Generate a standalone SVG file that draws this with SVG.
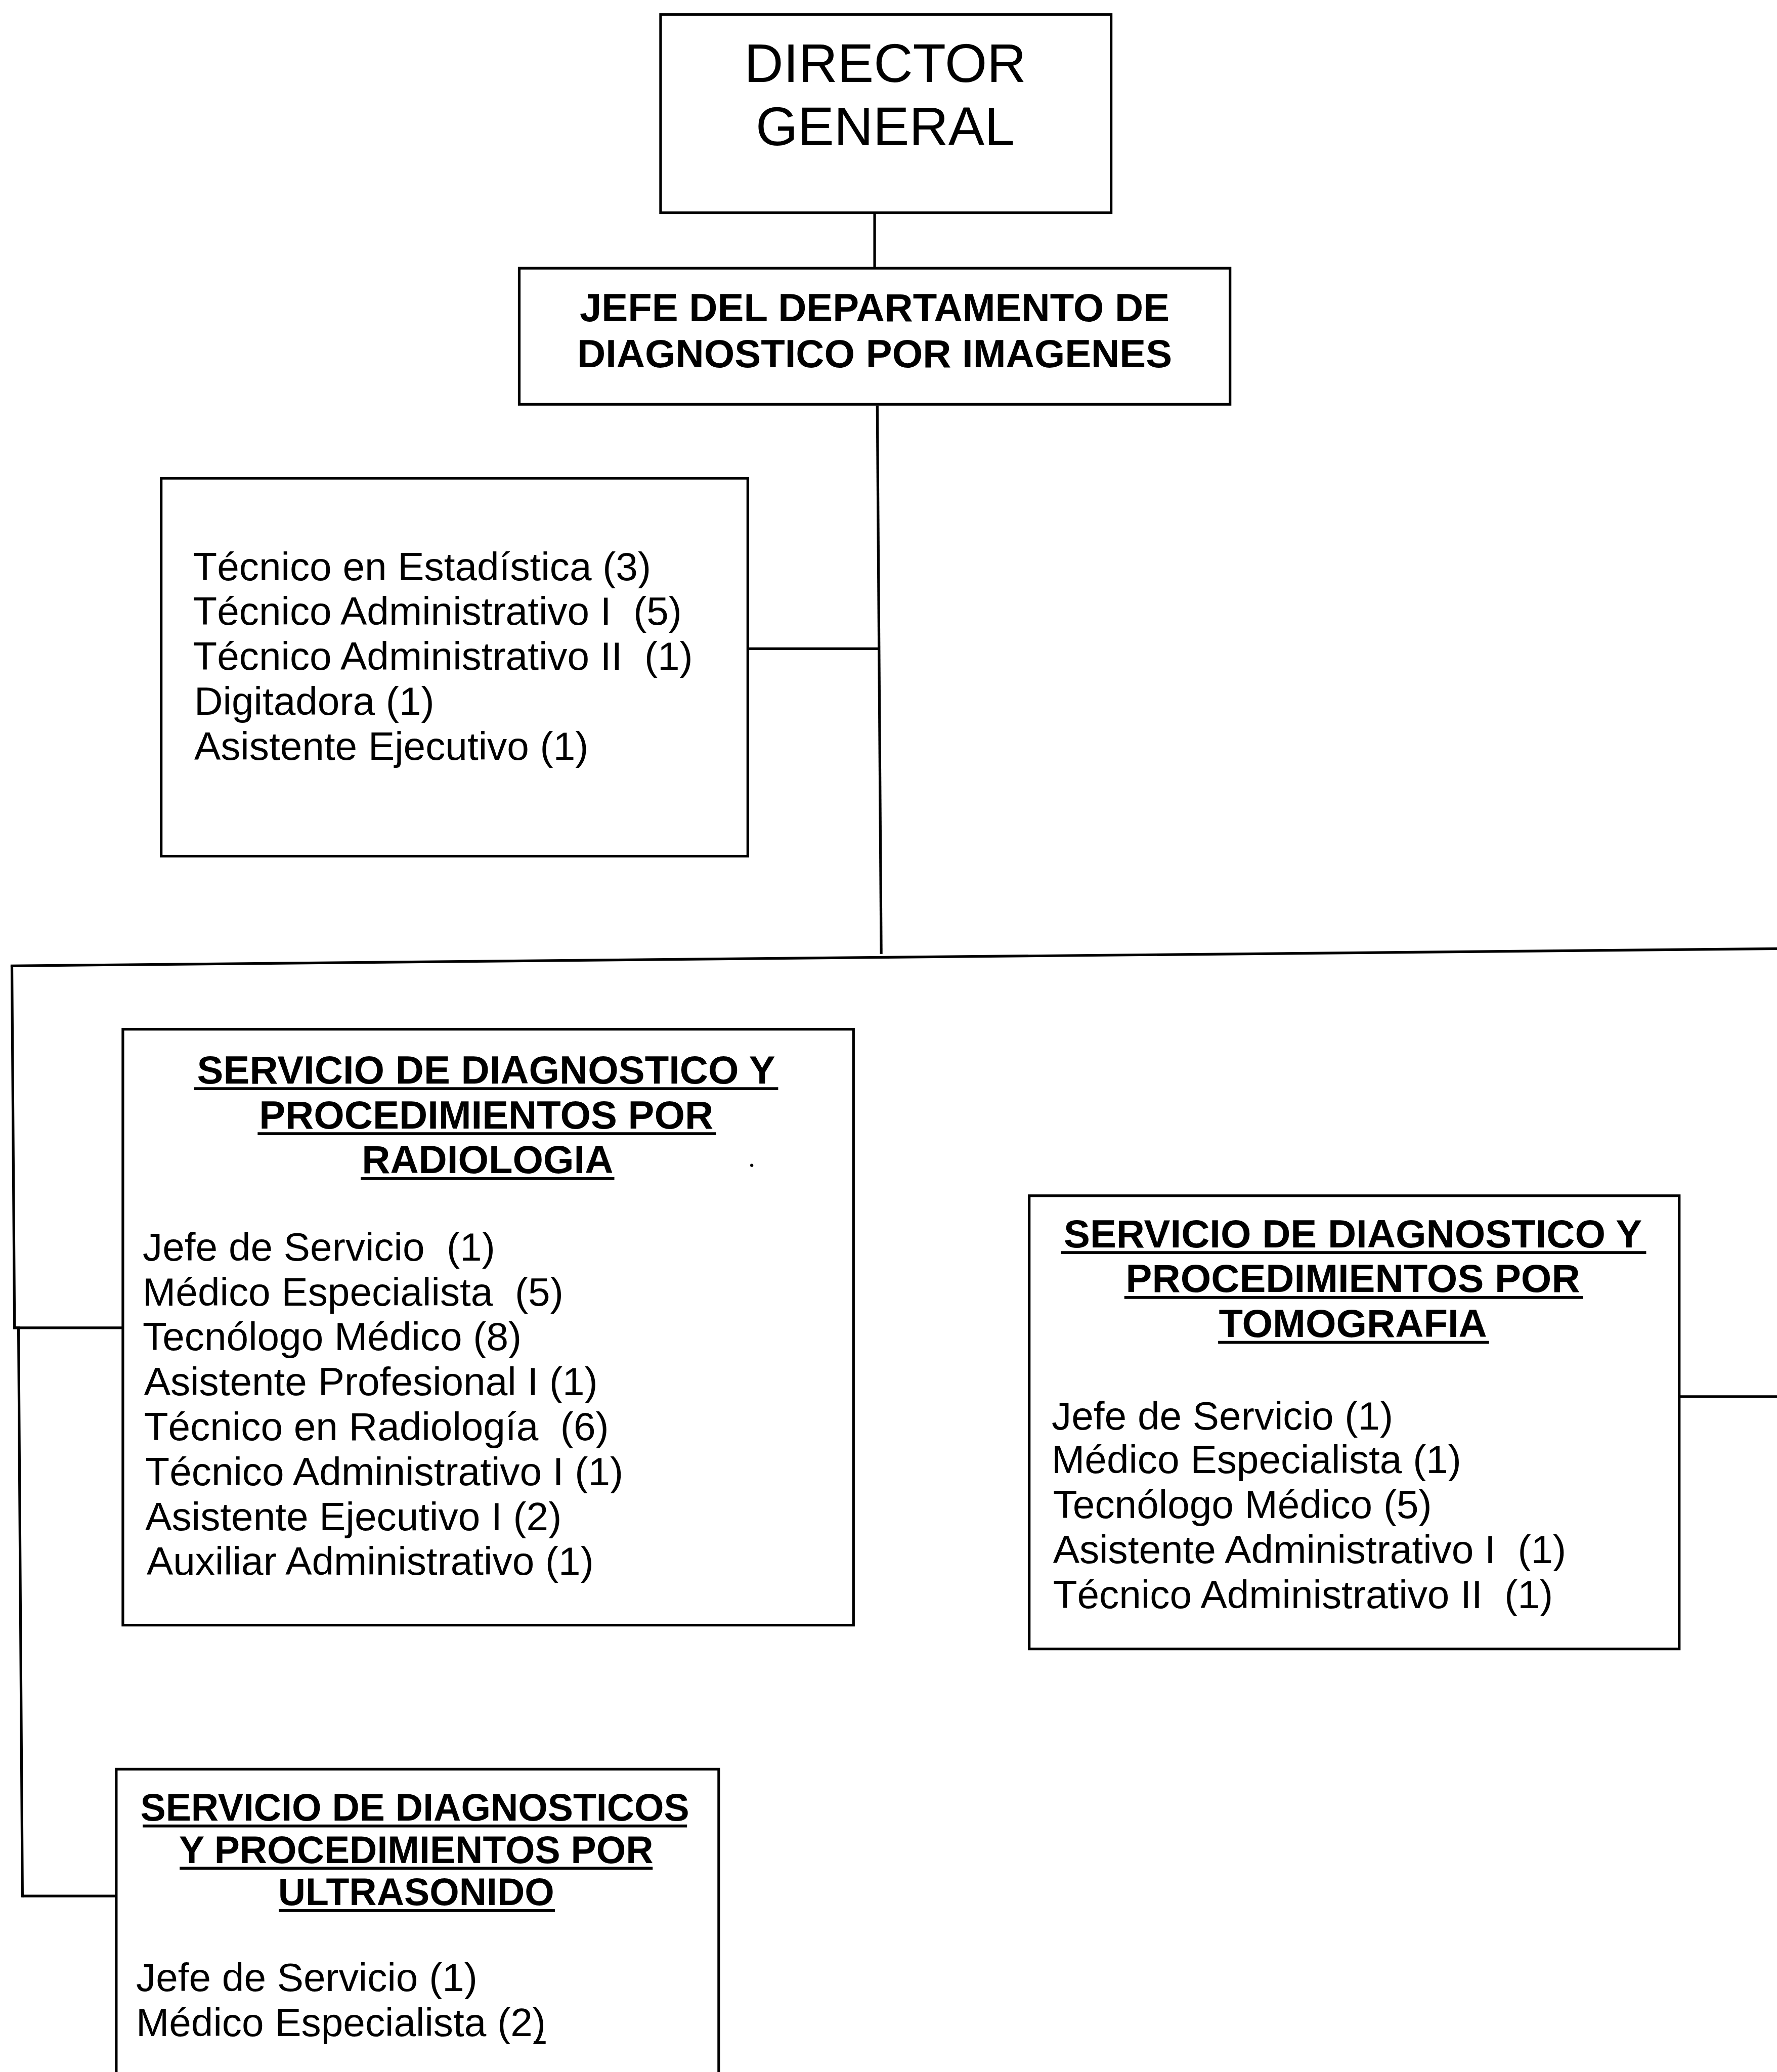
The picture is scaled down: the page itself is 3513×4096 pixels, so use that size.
<svg xmlns="http://www.w3.org/2000/svg" width="3513" height="4096" viewBox="0 0 3513 4096">
<style>
.box{fill:#fff;stroke:#000;stroke-width:2}
.ln{fill:none;stroke:#000;stroke-width:2}
.ul{stroke:#000;stroke-width:2.2}
text{font-family:"Liberation Sans",Arial,sans-serif;fill:#000;white-space:pre}
.big{font-size:41px}
.hd{font-size:29.8px;font-weight:bold}
.hs{font-size:28.8px;font-weight:bold}
.bd{font-size:30px}
</style>
<rect width="3513" height="4096" fill="#fff"/>
<g transform="scale(2.6119)">
<g id="connectors">
<path class="ln" d="M662,160 L662,203"/>
<path class="ln" d="M664,307 L667,722"/>
<path class="ln" d="M566,491 L665,491"/>
<path class="ln" d="M8,731 L1345,718"/>
<path class="ln" d="M9,731 L11,1005 L14,1005 L17,1436"/>
<path class="ln" d="M10,1005 L93,1005"/>
<path class="ln" d="M17,1435 L88,1435"/>
<path class="ln" d="M1271,1057 L1345,1057"/>
</g>
<g id="director">
<rect class="box" x="500" y="11" width="341" height="150"/>
<text class="big" x="670" y="62" text-anchor="middle">DIRECTOR</text>
<text class="big" x="670" y="110" text-anchor="middle">GENERAL</text>
</g>
<g id="jefe">
<rect class="box" x="393" y="203" width="538" height="103"/>
<text class="hd" x="662" y="243" text-anchor="middle">JEFE DEL DEPARTAMENTO DE</text>
<text class="hd" x="662" y="278" text-anchor="middle">DIAGNOSTICO POR IMAGENES</text>
</g>
<g id="staff">
<rect class="box" x="122" y="362" width="444" height="286"/>
<text class="bd" x="146" y="439">Técnico en Estadística (3)</text>
<text class="bd" x="146" y="473">Técnico Administrativo I  (5)</text>
<text class="bd" x="146" y="507">Técnico Administrativo II  (1)</text>
<text class="bd" x="147" y="541">Digitadora (1)</text>
<text class="bd" x="147" y="575">Asistente Ejecutivo (1)</text>
</g>
<g id="radiologia">
<rect class="box" x="93" y="779" width="553" height="451"/>
<text class="hd" x="368" y="820" text-anchor="middle">SERVICIO DE DIAGNOSTICO Y</text>
<line class="ul" x1="147" y1="824" x2="589" y2="824"/>
<text class="hd" x="368" y="854" text-anchor="middle">PROCEDIMIENTOS POR</text>
<line class="ul" x1="195" y1="858" x2="542" y2="858"/>
<text class="hd" x="369" y="888" text-anchor="middle">RADIOLOGIA</text>
<line class="ul" x1="273" y1="892" x2="465" y2="892"/>
<circle cx="569" cy="882" r="1.2" fill="#000"/>
<text class="bd" x="108" y="954">Jefe de Servicio  (1)</text>
<text class="bd" x="108" y="988">Médico Especialista  (5)</text>
<text class="bd" x="108" y="1022">Tecnólogo Médico (8)</text>
<text class="bd" x="109" y="1056">Asistente Profesional I (1)</text>
<text class="bd" x="109" y="1090">Técnico en Radiología  (6)</text>
<text class="bd" x="110" y="1124">Técnico Administrativo I (1)</text>
<text class="bd" x="110" y="1158">Asistente Ejecutivo I (2)</text>
<text class="bd" x="111" y="1192">Auxiliar Administrativo (1)</text>
</g>
<g id="tomografia">
<rect class="box" x="779" y="905" width="492" height="343"/>
<text class="hd" x="1024" y="944" text-anchor="middle">SERVICIO DE DIAGNOSTICO Y</text>
<line class="ul" x1="803" y1="948" x2="1246" y2="948"/>
<text class="hd" x="1024" y="978" text-anchor="middle">PROCEDIMIENTOS POR</text>
<line class="ul" x1="851" y1="982" x2="1198" y2="982"/>
<text class="hd" x="1024" y="1012" text-anchor="middle">TOMOGRAFIA</text>
<line class="ul" x1="922" y1="1016" x2="1127" y2="1016"/>
<text class="bd" x="796" y="1082">Jefe de Servicio (1)</text>
<text class="bd" x="796" y="1115">Médico Especialista (1)</text>
<text class="bd" x="797" y="1149">Tecnólogo Médico (5)</text>
<text class="bd" x="797" y="1183">Asistente Administrativo I  (1)</text>
<text class="bd" x="797" y="1217">Técnico Administrativo II  (1)</text>
</g>
<g id="ultrasonido">
<path class="box" d="M88,1575 L88,1339 L544,1339 L544,1575"/>
<text class="hs" x="314" y="1378" text-anchor="middle">SERVICIO DE DIAGNOSTICOS</text>
<line class="ul" x1="108" y1="1382" x2="520" y2="1382"/>
<text class="hs" x="315" y="1410" text-anchor="middle">Y PROCEDIMIENTOS POR</text>
<line class="ul" x1="136" y1="1414" x2="494" y2="1414"/>
<text class="hs" x="315" y="1442" text-anchor="middle">ULTRASONIDO</text>
<line class="ul" x1="211" y1="1446" x2="420" y2="1446"/>
<text class="bd" x="103" y="1507">Jefe de Servicio (1)</text>
<text class="bd" x="103" y="1541">Médico Especialista (2)</text>
<line class="ul" x1="404" y1="1546" x2="413" y2="1546"/>
</g>
</g>
</svg>
